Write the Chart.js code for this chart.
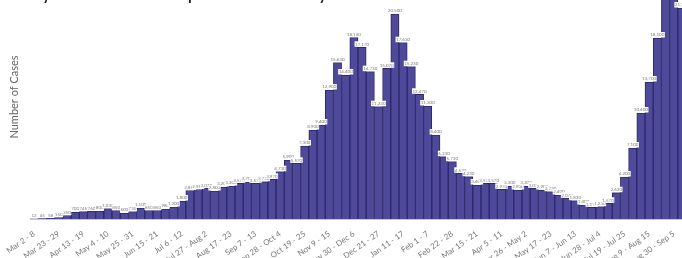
<!DOCTYPE html>
<html>
<head>
<meta charset="utf-8">
<script src="https://cdn.jsdelivr.net/npm/chart.js@4.4.1/dist/chart.umd.min.js"></script>
<style>
  html, body { margin: 0; padding: 0; background: #fff; overflow: hidden; width: 682px; height: 258px; }
  #wrap { position: absolute; left: 0; top: -30px; width: 690px; height: 309px; }
</style>
</head>
<body>
<div id="wrap"><canvas id="casesChart" width="690" height="309"></canvas></div>
<script>
// Week categories (Mar 2020 - Sep 2021)
const weekLabels = [
  'Mar 2 - 8', 'Mar 9 - 15', 'Mar 16 - 22', 'Mar 23 - 29', 'Mar 30 - Apr 5',
  'Apr 6 - 12', 'Apr 13 - 19', 'Apr 20 - 26', 'Apr 27 - May 3', 'May 4 - 10',
  'May 11 - 17', 'May 18 - 24', 'May 25 - 31', 'Jun 1 - 7', 'Jun 8 - 14',
  'Jun 15 - 21', 'Jun 22 - 28', 'Jun 29 - Jul 5', 'Jul 6 - 12', 'Jul 13 - 19',
  'Jul 20 - 26', 'Jul 27 - Aug 2', 'Aug 3 - 9', 'Aug 10 - 16', 'Aug 17 - 23',
  'Aug 24 - 30', 'Aug 31 - Sep 6', 'Sep 7 - 13', 'Sep 14 - 20', 'Sep 21 - 27',
  'Sep 28 - Oct 4', 'Oct 5 - 11', 'Oct 12 - 18', 'Oct 19 - 25', 'Oct 26 - Nov 1',
  'Nov 2 - 8', 'Nov 9 - 15', 'Nov 16 - 22', 'Nov 23 - 29', 'Nov 30 - Dec 6',
  'Dec 7 - 13', 'Dec 14 - 20', 'Dec 21 - 27', 'Dec 28 - Jan 3', 'Jan 4 - 10',
  'Jan 11 - 17', 'Jan 18 - 24', 'Jan 25 - 31', 'Feb 1 - 7', 'Feb 8 - 14',
  'Feb 15 - 21', 'Feb 22 - 28', 'Mar 1 - 7', 'Mar 8 - 14', 'Mar 15 - 21',
  'Mar 22 - 28', 'Mar 29 - Apr 4', 'Apr 5 - 11', 'Apr 12 - 18', 'Apr 19 - 25',
  'Apr 26 - May 2', 'May 3 - 9', 'May 10 - 16', 'May 17 - 23', 'May 24 - 30',
  'May 31 - Jun 6', 'Jun 7 - Jun 13', 'Jun 14 - Jun 20', 'Jun 21 - Jun 27', 'Jun 28 - Jul 4',
  'Jul 5 - Jul 11', 'Jul 12 - Jul 18', 'Jul 19 - Jul 25', 'Jul 26 - Aug 1', 'Aug 2 - Aug 8',
  'Aug 9 - Aug 15', 'Aug 16 - Aug 22', 'Aug 23 - Aug 29', 'Aug 30 - Sep 5', 'Sep 6 - Sep 12'
];

// Weekly case counts
const weeklyCases = [
  12, 45, 58, 150, 350,
  700, 745, 760, 800, 1030,
  850, 600, 730, 1100, 850,
  850, 980, 1200, 1800, 2850,
  2950, 3070, 2800, 3200, 3300,
  3570, 3700, 3570, 3730, 3970,
  4730, 5900, 5570, 7300, 8900,
  9400, 12900, 15630, 14400, 18150,
  17170, 14730, 11230, 15070, 20500,
  17630, 15230, 12470, 11300, 8400,
  6230, 5730, 4570, 4230, 3400,
  3570, 3570, 2970, 3300, 2900,
  3300, 3070, 2900, 2730, 2400,
  2070, 1830, 1400, 1170, 1230,
  1570, 2630, 4200, 7100, 10600,
  13700, 18100, 23000, 24000, 21100
];

const chartTitle = 'Weekly COVID-19 Cases Reported in the County';
const yAxisTitle = 'Number of Cases';

// title sits over the plot (the picture is cropped from a bigger chart)
const overlayTitle = {
  id: 'overlayTitle',
  afterDatasetsDraw(chart) {
    const ctx = chart.ctx;
    ctx.save();
    ctx.font = 'bold 15px Lato';
    ctx.fillStyle = '#1a1a1a';
    ctx.textBaseline = 'alphabetic';
    ctx.textAlign = 'left';
    ctx.fillText(chartTitle, 0, 30);
    ctx.restore();
  }
};

// small value labels above every bar, white box behind
const barValues = {
  id: 'barValues',
  afterDatasetsDraw(chart) {
    const ctx = chart.ctx;
    const meta = chart.getDatasetMeta(0);
    ctx.save();
    ctx.font = '4.5px Lato';
    ctx.textAlign = 'center';
    ctx.textBaseline = 'bottom';
    meta.data.forEach((bar, i) => {
      const txt = weeklyCases[i].toLocaleString('en-US');
      const w = ctx.measureText(txt).width;
      ctx.fillStyle = '#fff';
      ctx.fillRect(bar.x - w / 2 - 0.5, bar.y - 6, w + 1, 5.5);
      ctx.fillStyle = '#7a7a7a';
      ctx.fillText(txt, bar.x, bar.y - 1);
    });
    ctx.restore();
  }
};

const ctx = document.getElementById('casesChart');
new Chart(ctx, {
  type: 'bar',
  data: {
    labels: weekLabels,
    datasets: [{
      label: 'Cases',
      data: weeklyCases,
      backgroundColor: '#4e4998',
      borderColor: '#2c286b',
      borderWidth: 1,
      barPercentage: 1,
      categoryPercentage: 1
    }]
  },
  options: {
    responsive: false,
    animation: false,
    layout: { padding: { top: 5, right: 4, left: 0, bottom: 0 } },
    plugins: {
      legend: { display: false },
      title: { display: false },
      tooltip: { enabled: false }
    },
    scales: {
      x: {
        grid: { display: false },
        border: { display: true, color: '#c8c8c8', width: 1 },
        ticks: {
          autoSkip: false,
          minRotation: 35,
          maxRotation: 35,
          padding: 2,
          color: '#777',
          font: { family: 'Lato', size: 8 },
          callback: function (val, i) {
            return i % 3 === 0 ? this.getLabelForValue(val) : '';
          }
        },
        afterFit: (scale) => { scale.height = 60; }
      },
      y: {
        min: 0,
        max: 24400,
        grid: { display: false },
        border: { display: false },
        ticks: { display: false },
        title: {
          display: true,
          text: yAxisTitle,
          color: '#666',
          font: { family: 'Lato', size: 11 },
          padding: { top: 8, bottom: 0 }
        },
        afterFit: (scale) => { scale.width = 30; }
      }
    }
  },
  plugins: [overlayTitle, barValues]
});
</script>
</body>
</html>
